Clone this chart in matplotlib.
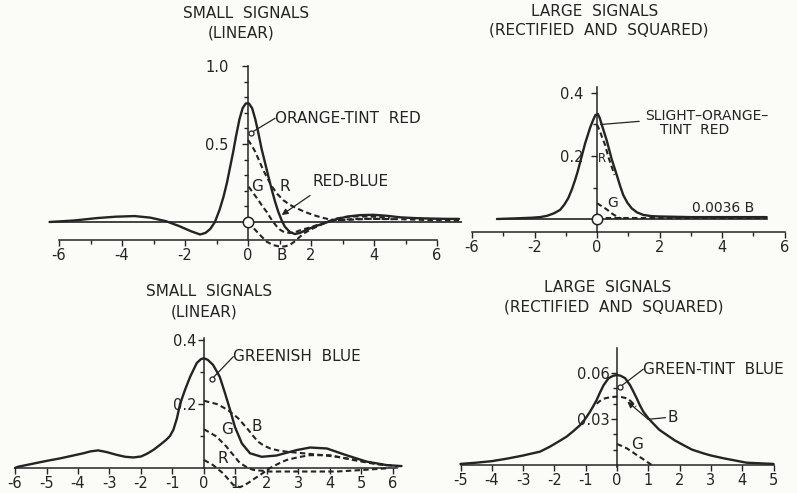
import numpy as np
import matplotlib.pyplot as plt

W, H = 797, 493
INK = '#242424'
PAPER = '#fbfbf8'

plt.rcParams['font.family'] = ['DejaVu Sans']

# ---------------- data ----------------
# top left: small signals (linear), orange-tint red
tl_solid_x = [-6.3, -5.5, -4.8, -4.2, -3.6, -3.1, -2.6, -2.2, -1.8, -1.52, -1.35, -1.2, -1.05, -0.9,
              -0.78, -0.67, -0.57, -0.47, -0.38, -0.27, -0.17, -0.07, 0.03, 0.13, 0.23, 0.33, 0.43,
              0.54, 0.65, 0.75, 0.86, 0.96, 1.07, 1.17, 1.33, 1.49, 1.65, 1.86, 2.1, 2.39, 2.65,
              2.92, 3.2, 3.56, 3.98, 4.4, 4.83, 5.3, 5.8, 6.3, 6.7]
tl_solid_y = [0.0, 0.01, 0.025, 0.034, 0.038, 0.028, 0.005, -0.025, -0.06, -0.08, -0.07, -0.045, 0.0,
              0.08, 0.16, 0.25, 0.35, 0.45, 0.55, 0.66, 0.73, 0.76, 0.76, 0.73, 0.66, 0.57, 0.47,
              0.38, 0.29, 0.21, 0.13, 0.066, 0.01, -0.03, -0.065, -0.077, -0.07, -0.05, -0.03,
              -0.01, 0.008, 0.024, 0.036, 0.044, 0.046, 0.04, 0.03, 0.025, 0.022, 0.02, 0.02]
tl_r_x = [0.0, 0.12, 0.23, 0.36, 0.49, 0.62, 0.75, 0.93, 1.12, 1.33, 1.55, 1.8, 2.07, 2.35, 2.6,
          2.9, 3.3, 3.8, 4.3, 5.0, 5.8, 6.7]
tl_r_y = [0.526, 0.49, 0.45, 0.39, 0.33, 0.28, 0.23, 0.18, 0.14, 0.11, 0.088, 0.065, 0.045, 0.028,
          0.016, 0.012, 0.015, 0.02, 0.02, 0.017, 0.012, 0.01]
tl_g_x = [0.02, 0.15, 0.33, 0.46, 0.59, 0.7, 0.8, 0.92, 1.02, 1.15, 1.3, 1.5, 1.7, 1.97, 2.3, 2.6,
          3.0, 3.5, 4.0, 4.6]
tl_g_y = [0.226, 0.19, 0.14, 0.1, 0.066, 0.03, 0.0, -0.03, -0.05, -0.065, -0.07, -0.065, -0.05,
          -0.035, -0.012, 0.005, 0.015, 0.02, 0.02, 0.018]
tl_b_x = [0.0, 0.14, 0.28, 0.44, 0.59, 0.8, 1.02, 1.18, 1.33, 1.5, 1.65, 1.8, 1.97, 2.2, 2.4, 2.6,
          2.8, 3.1, 3.5, 4.0, 4.5]
tl_b_y = [0.0, -0.03, -0.062, -0.095, -0.126, -0.148, -0.158, -0.156, -0.147, -0.122, -0.094,
          -0.07, -0.05, -0.028, -0.01, 0.008, 0.022, 0.033, 0.036, 0.034, 0.028]

# top right: large signals (rectified and squared), slight-orange-tint red
tr_solid_x = [-3.2, -2.6, -2.1, -1.82, -1.6, -1.38, -1.18, -1.05, -0.92, -0.8, -0.7, -0.62, -0.54,
              -0.46, -0.38, -0.3, -0.22, -0.12, -0.05, 0.03, 0.09, 0.15, 0.23, 0.31, 0.39, 0.47,
              0.56, 0.65, 0.74, 0.84, 0.97, 1.11, 1.28, 1.48, 1.75, 2.0, 2.5, 3.0, 3.5, 4.0, 4.5,
              5.0, 5.43]
tr_solid_y = [0.0, 0.002, 0.004, 0.006, 0.01, 0.018, 0.029, 0.045, 0.066, 0.095, 0.124, 0.15, 0.18,
              0.21, 0.24, 0.265, 0.29, 0.315, 0.33, 0.333, 0.32, 0.3, 0.275, 0.25, 0.22, 0.19,
              0.162, 0.134, 0.105, 0.076, 0.052, 0.034, 0.021, 0.013, 0.009, 0.008, 0.007, 0.006,
              0.006, 0.006, 0.006, 0.006, 0.006]
tr_r_x = [0.0, 0.1, 0.18, 0.26, 0.36, 0.47, 0.56]
tr_r_y = [0.3, 0.277, 0.255, 0.235, 0.198, 0.166, 0.14]
tr_g_x = [0.0, 0.13, 0.26, 0.37, 0.47, 0.58, 0.68, 0.78]
tr_g_y = [0.05, 0.042, 0.034, 0.026, 0.018, 0.011, 0.005, 0.002]
tr_b_x = [0.0, 5.43]
tr_b_y = [0.0036, 0.0036]

# bottom left: small signals (linear), greenish blue
bl_solid_x = [-6.0, -5.9, -5.5, -5.21, -4.9, -4.57, -4.2, -3.83, -3.6, -3.36, -3.1, -2.77, -2.5,
              -2.24, -2.0, -1.82, -1.6, -1.4, -1.2, -1.08, -0.97, -0.86, -0.76, -0.6, -0.44, -0.23,
              -0.1, 0.0, 0.12, 0.29, 0.5, 0.67, 0.83, 0.98, 1.2, 1.46, 1.83, 2.3, 2.94, 3.37, 3.9,
              4.52, 5.16, 5.8, 6.27]
bl_solid_y = [0.0, 0.004, 0.012, 0.018, 0.024, 0.03, 0.038, 0.046, 0.052, 0.055, 0.05, 0.041, 0.035,
              0.033, 0.036, 0.044, 0.057, 0.072, 0.088, 0.1, 0.12, 0.155, 0.2, 0.245, 0.285, 0.328,
              0.34, 0.343, 0.338, 0.322, 0.285, 0.233, 0.181, 0.129, 0.077, 0.046, 0.035, 0.039,
              0.056, 0.064, 0.061, 0.04, 0.02, 0.009, 0.006]
bl_b_x = [0.0, 0.2, 0.4, 0.6, 0.77, 0.93, 1.09, 1.25, 1.41, 1.56, 1.72, 1.9, 2.1, 2.35, 2.62, 3.15,
          3.68, 4.21, 4.85, 5.48, 6.2]
bl_b_y = [0.21, 0.205, 0.2, 0.19, 0.18, 0.168, 0.155, 0.137, 0.119, 0.1, 0.082, 0.07, 0.061, 0.055,
          0.051, 0.046, 0.041, 0.035, 0.025, 0.0125, 0.005]
bl_g_x = [0.0, 0.2, 0.4, 0.55, 0.71, 0.85, 0.98, 1.1, 1.25, 1.4, 1.57, 2.1, 3.15, 4.21, 5.06, 5.8]
bl_g_y = [0.121, 0.11, 0.098, 0.083, 0.067, 0.05, 0.035, 0.02, 0.009, 0.0, -0.006, -0.011, -0.011,
          -0.011, -0.006, -0.001]
bl_r_x = [0.0, 0.15, 0.29, 0.45, 0.61, 0.77, 0.93, 1.14, 1.3, 1.46, 1.62, 1.78, 1.94, 2.1, 2.35,
          2.62, 3.0, 3.37, 4.0, 4.73, 5.3, 5.8]
bl_r_y = [0.025, 0.017, 0.009, -0.004, -0.017, -0.035, -0.053, -0.06, -0.053, -0.043, -0.032,
          -0.022, -0.011, 0.0, 0.013, 0.025, 0.034, 0.04, 0.04, 0.025, 0.015, 0.008]

# bottom right: large signals (rectified and squared), green-tint blue
br_solid_x = [-5.0, -4.5, -4.0, -3.5, -3.0, -2.46, -2.14, -1.85, -1.61, -1.4, -1.18, -1.0, -0.86,
              -0.75, -0.65, -0.55, -0.43, -0.27, -0.12, 0.0, 0.12, 0.26, 0.42, 0.52, 0.63, 0.73,
              0.84, 1.0, 1.16, 1.35, 1.59, 1.85, 2.12, 2.4, 2.76, 3.0, 3.4, 4.14, 5.0]
br_solid_y = [0.0007, 0.0015, 0.0025, 0.0042, 0.0062, 0.0087, 0.012, 0.0155, 0.0185, 0.022, 0.026,
              0.0305, 0.0348, 0.0387, 0.0424, 0.047, 0.052, 0.0566, 0.0582, 0.0587, 0.0582, 0.0566,
              0.052, 0.048, 0.0435, 0.039, 0.0348, 0.0305, 0.027, 0.023, 0.0196, 0.016, 0.013,
              0.010, 0.0076, 0.0062, 0.0044, 0.0015, 0.0007]
br_b_x = [-0.65, -0.5, -0.38, -0.2, 0.0, 0.15, 0.31, 0.42, 0.52, 0.6]
br_b_y = [0.04, 0.0425, 0.0435, 0.0443, 0.0446, 0.0443, 0.0435, 0.042, 0.04, 0.038]
br_g_x = [0.0, 0.15, 0.31, 0.47, 0.63, 0.8, 0.95, 1.11]
br_g_y = [0.0137, 0.0124, 0.0109, 0.0088, 0.0065, 0.0043, 0.0022, 0.0]

# ---------------- figure ----------------
fig = plt.figure(figsize=(W / 100, H / 100), dpi=100, facecolor=PAPER)
LBL = 11  # size of curve labels


def panel(x0, xs, y0, ys, xlim, ylim):
    # x0, y0: pixel of the data origin; xs, ys: pixels per data unit
    left = (x0 + xlim[0] * xs) / W
    bottom = 1 - (y0 - ylim[0] * ys) / H
    ax = fig.add_axes([left, bottom, (xlim[1] - xlim[0]) * xs / W, (ylim[1] - ylim[0]) * ys / H])
    ax.set_xlim(xlim)
    ax.set_ylim(ylim)
    ax.patch.set_alpha(0)
    for s in ['top', 'right']:
        ax.spines[s].set_visible(False)
    for s in ['left', 'bottom']:
        ax.spines[s].set_linewidth(1.1)
        ax.spines[s].set_color(INK)
    ax.spines['left'].set_position(('data', 0))
    ax.tick_params(which='both', direction='out', color=INK, labelcolor=INK, labelsize=10.5, width=1)
    ax.tick_params(which='major', length=4)
    ax.tick_params(which='minor', length=3)
    return ax


def solid(ax, x, y):
    ax.plot(x, y, color=INK, lw=1.7, solid_capstyle='round', solid_joinstyle='round', clip_on=False)


def dashed(ax, x, y):
    ax.plot(x, y, color=INK, lw=1.5, dashes=(2.6, 1.6), clip_on=False)


def origin(ax):
    ax.plot([0], [0], 'o', ms=7.5, mfc=PAPER, mec=INK, mew=1.1, zorder=6, clip_on=False)


def leader(ax, label, pt, txt):
    ax.plot([pt[0]], [pt[1]], 'o', ms=3.6, mfc=PAPER, mec=INK, mew=0.9, zorder=6)
    ax.annotate('', xy=pt, xytext=txt,
                arrowprops=dict(arrowstyle='-', lw=0.9, color=INK, shrinkA=0, shrinkB=2))
    ax.text(txt[0], txt[1], label, fontsize=LBL, color=INK, va='center', ha='left')


def note(ax, x, y, s, size=LBL, ha='center'):
    ax.text(x, y, s, fontsize=size, color=INK, va='center', ha=ha)


def title(px, py, lines):
    for i, t in enumerate(lines):
        fig.text(px[i] / W, 1 - py[i] / H, t, ha='center', va='center', fontsize=11, color=INK)


# ---- top left ----
ax = panel(248, 31.5, 222, 156, (-6.6, 6.8), (-0.25, 1.05))
ax.spines['bottom'].set_position(('data', -0.115))
ax.spines['bottom'].set_bounds(-6, 6)
ax.spines['left'].set_bounds(-0.115, 1.0)
ax.set_xticks([-6, -4, -2, 0, 2, 4, 6], ['-6', '-4', '-2', '0', '2', '4', '6'])
ax.set_xticks([-5, -3, -1, 1, 3, 5], minor=True)
ax.set_yticks([0.5, 1.0], ['0.5', '1.0'])
ax.set_yticks([0.1, 0.2, 0.3, 0.4, 0.6, 0.7, 0.8, 0.9], minor=True)
ax.tick_params(axis='y', pad=10)
ax.tick_params(axis='x', pad=2)
ax.axhline(0, xmin=(-6.3 + 6.6) / 13.4, xmax=1.0, color=INK, lw=1.2)
solid(ax, tl_solid_x, tl_solid_y)
dashed(ax, tl_r_x, tl_r_y)
dashed(ax, tl_g_x, tl_g_y)
dashed(ax, tl_b_x, tl_b_y)
origin(ax)
leader(ax, 'ORANGE-TINT  RED', (0.08, 0.57), (0.86, 0.665))
note(ax, 0.28, 0.23, 'G')
note(ax, 1.17, 0.23, 'R')
note(ax, 1.07, -0.215, 'B')
ax.annotate('', xy=(1.07, 0.045), xytext=(1.97, 0.17),
            arrowprops=dict(arrowstyle='-|>', lw=0.9, color=INK, mutation_scale=9, shrinkA=0, shrinkB=0))
note(ax, 2.06, 0.262, 'RED-BLUE', ha='left')
title([246, 241], [14, 33], ['SMALL  SIGNALS', '(LINEAR)'])

# ---- top right ----
ax = panel(597, 31.25, 219, 315, (-4.5, 6.5), (-0.1, 0.45))
ax.spines['bottom'].set_position(('data', -0.041))
ax.spines['bottom'].set_bounds(-4, 6)
ax.spines['left'].set_bounds(-0.041, 0.42)
ax.set_xticks([-4, -2, 0, 2, 4, 6], ['-6', '-2', '0', '2', '4', '6'])
ax.set_xticks([-3, -1, 1, 3, 5], minor=True)
ax.set_yticks([0.2, 0.4], ['0.2', '0.4'])
ax.set_yticks([0.1, 0.3], minor=True)
ax.tick_params(axis='y', pad=6)
ax.tick_params(axis='x', pad=2)
ax.axhline(0, xmin=(-3.2 + 4.5) / 11, xmax=(5.43 + 4.5) / 11, color=INK, lw=1.2)
dashed(ax, tr_b_x, tr_b_y)
solid(ax, tr_solid_x, tr_solid_y)
dashed(ax, tr_r_x, tr_r_y)
dashed(ax, tr_g_x, tr_g_y)
origin(ax)
ax.annotate('', xy=(0.12, 0.30), xytext=(1.35, 0.31),
            arrowprops=dict(arrowstyle='-', lw=0.9, color=INK, shrinkA=0, shrinkB=0))
note(ax, 3.5, 0.328, 'SLIGHT\u2013ORANGE\u2013', size=10)
note(ax, 3.12, 0.284, 'TINT  RED', size=10)
note(ax, 0.17, 0.192, 'R', size=8.5)
note(ax, 0.5, 0.05, 'G', size=10)
note(ax, 3.03, 0.036, '0.0036 B', size=10, ha='left')
title([595, 599], [12, 30], ['LARGE  SIGNALS', '(RECTIFIED  AND  SQUARED)'])

# ---- bottom left ----
ax = panel(204, 31.5, 468, 320, (-6.3, 6.4), (-0.09, 0.42))
ax.spines['bottom'].set_position(('data', 0))
ax.spines['bottom'].set_bounds(-6, 6.14)
ax.spines['left'].set_bounds(0, 0.405)
ax.set_xticks(list(range(-6, 7)), [str(v) for v in range(-6, 7)])
ax.set_yticks([0.2, 0.4], ['0.2', '0.4'])
ax.set_yticks([0.1, 0.3], minor=True)
ax.tick_params(axis='y', pad=1.5)
ax.tick_params(axis='x', pad=1.5)
solid(ax, bl_solid_x, bl_solid_y)
dashed(ax, bl_b_x, bl_b_y)
dashed(ax, bl_g_x, bl_g_y)
dashed(ax, bl_r_x, bl_r_y)
leader(ax, 'GREENISH  BLUE', (0.24, 0.277), (0.93, 0.348))
note(ax, 1.69, 0.131, 'B')
note(ax, 0.72, 0.121, 'G')
note(ax, 0.61, 0.03, 'R')
title([209, 204], [291, 312], ['SMALL  SIGNALS', '(LINEAR)'])

# ---- bottom right ----
ax = panel(617, 31.3, 465, 1533, (-5.3, 5.8), (-0.012, 0.08))
ax.spines['bottom'].set_position(('data', 0))
ax.spines['bottom'].set_bounds(-5, 5)
ax.spines['left'].set_bounds(-0.001, 0.076)
ax.set_xticks(list(range(-5, 6)), [str(v) for v in range(-5, 6)])
ax.set_yticks([0.03, 0.06], ['0.03', '0.06'])
ax.set_yticks([0.01, 0.02, 0.04, 0.05], minor=True)
ax.tick_params(axis='y', pad=1.5)
ax.tick_params(axis='x', pad=1.5)
solid(ax, br_solid_x, br_solid_y)
dashed(ax, br_b_x, br_b_y)
dashed(ax, br_g_x, br_g_y)
leader(ax, 'GREEN-TINT  BLUE', (0.1, 0.051), (0.84, 0.0625))
ax.annotate('', xy=(0.33, 0.0413), xytext=(1.0, 0.0298),
            arrowprops=dict(arrowstyle='-|>', lw=0.9, color=INK, mutation_scale=9, shrinkA=0, shrinkB=0))
ax.annotate('', xy=(1.0, 0.0298), xytext=(1.55, 0.0309),
            arrowprops=dict(arrowstyle='-', lw=0.9, color=INK, shrinkA=0, shrinkB=0))
note(ax, 1.6, 0.0309, 'B', ha='left')
note(ax, 0.63, 0.0135, 'G')
title([608, 614], [288, 307], ['LARGE  SIGNALS', '(RECTIFIED  AND  SQUARED)'])

fig.savefig('out.png', dpi=100, facecolor=PAPER)
